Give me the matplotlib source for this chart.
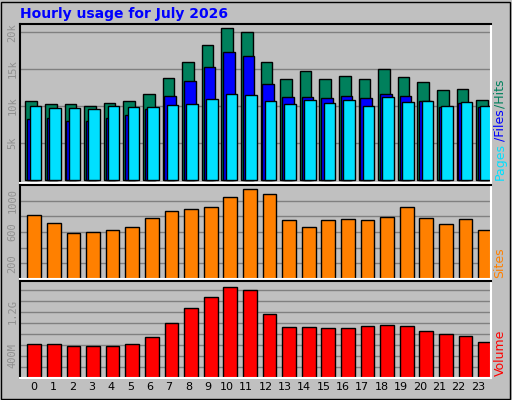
import matplotlib
matplotlib.use("Agg")
import matplotlib.pyplot as plt

hours = list(range(24))
hits = [10.7,10.3,10.3,10.0,10.4,10.7,11.6,13.8,15.9,18.2,20.5,20.0,15.9,13.7,14.8,13.6,14.1,13.6,15.0,14.0,13.2,12.2,12.3,10.8]
files = [8.3,8.4,8.0,8.0,8.4,8.8,9.6,11.35,13.4,15.3,17.3,16.8,13.0,11.2,11.2,11.1,11.4,11.1,11.7,11.4,10.7,9.9,10.4,9.9]
pages = [10.0,9.7,9.7,9.6,10.0,9.9,9.9,10.1,10.3,10.9,11.6,11.5,10.7,10.3,10.8,10.4,10.8,10.0,11.2,10.6,10.7,10.0,10.6,10.0]
sites = [812,710,582,595,620,659,773,862,888,913,1041,1143,1083,752,662,752,764,752,790,917,777,700,764,624]
volume = [618,618,587,587,587,618,751,1000,1273,1473,1655,1605,1169,932,932,914,914,951,969,951,860,805,769,660]

W, H = 512, 400
fig = plt.figure(figsize=(5.12, 4.0), dpi=100, facecolor="#c0c0c0")
BG = "#c0c0c0"

def ax_px(x0, y0, x1, y1):
    return fig.add_axes([x0 / W, 1 - y1 / H, (x1 - x0) / W, (y1 - y0) / H])

# outer frame
fig.add_artist(plt.Rectangle((1/W, 1/H), 1-3/W, 1-3/H, transform=fig.transFigure,
                             fill=False, edgecolor="black", lw=1))

fig.text(20/W, 1-14/H, "Hourly usage for July 2026", color="#0000ff",
         fontsize=10, fontweight="bold", va="center", ha="left")

def style(ax, ylim, ticks, labels, grid):
    ax.set_facecolor(BG)
    ax.set_xlim(-0.725, 23.3)
    ax.set_ylim(*ylim)
    ax.set_yticks(grid, minor=False)
    ax.set_yticklabels([labels.get(g, "") for g in grid], rotation=90, va="center",
                       color="#909090", fontsize=7.5, family="DejaVu Sans Mono")
    ax.tick_params(axis="y", length=0, pad=2)
    ax.grid(axis="y", color="#808080", lw=1)
    ax.set_axisbelow(True)
    ax.set_xticks([])
    for s in ("top", "left"):
        ax.spines[s].set_color("black")
    for s in ("bottom", "right"):
        ax.spines[s].set_color("white")
    for s in ax.spines.values():
        s.set_linewidth(1.5)

ax1 = ax_px(20, 24, 491, 183)
ax1.bar([h - 0.155 for h in hours], hits, width=0.59, color="#00805c", edgecolor="black", lw=1)
ax1.bar([h - 0.065 for h in hours], files, width=0.59, color="#0000ff", edgecolor="black", lw=1)
ax1.bar([h + 0.055 for h in hours], pages, width=0.59, color="#00e0ff", edgecolor="black", lw=1)
style(ax1, (-0.4, 21.1), None, {5: "5k", 10: "10k", 15: "15k", 20: "20k"}, [5, 10, 15, 20])

ax2 = ax_px(20, 185, 491, 279)
ax2.bar(hours, sites, width=0.7, color="#ff8000", edgecolor="black", lw=1)
style(ax2, (0, 1200), None, {200: "200", 600: "600", 1000: "1000"}, [200, 400, 600, 800, 1000])

ax3 = ax_px(20, 281, 491, 378)
ax3.bar(hours, volume, width=0.7, color="#ff0000", edgecolor="black", lw=1)
gr = [200, 400, 600, 800, 1000, 1200, 1400, 1600]
style(ax3, (0, 1760), None, {400: "400M", 1200: "1.2G"}, gr)

for h in hours:
    fig.text((34 + h * 19.3) / W, 1 - 387/H, str(h), ha="center", va="center", fontsize=8)

# right side labels
def rlabel(parts, ycenter):
    y = ycenter
    total = sum(len(p) for p, _ in parts) * 7.0
    y = ycenter + total / 2
    for p, c in parts:
        t = fig.text(500/W, 1 - y/H, p, color=c, rotation=90, ha="center", va="top",
                     fontsize=9)
        y -= len(p) * 7.0

fig.text(500/W, 1 - 180/H, "Pages", color="#00e0ff", rotation=90, ha="center", va="bottom", fontsize=9)
fig.text(500/W, 1 - 141/H, "/Files", color="#0000ff", rotation=90, ha="center", va="bottom", fontsize=9)
fig.text(500/W, 1 - 108/H, "/Hits", color="#00805c", rotation=90, ha="center", va="bottom", fontsize=9)
fig.text(500/W, 1 - 278/H, "Sites", color="#ff8000", rotation=90, ha="center", va="bottom", fontsize=9)
fig.text(500/W, 1 - 376/H, "Volume", color="#ff0000", rotation=90, ha="center", va="bottom", fontsize=9)

fig.savefig("out.png", dpi=100, facecolor=fig.get_facecolor())
